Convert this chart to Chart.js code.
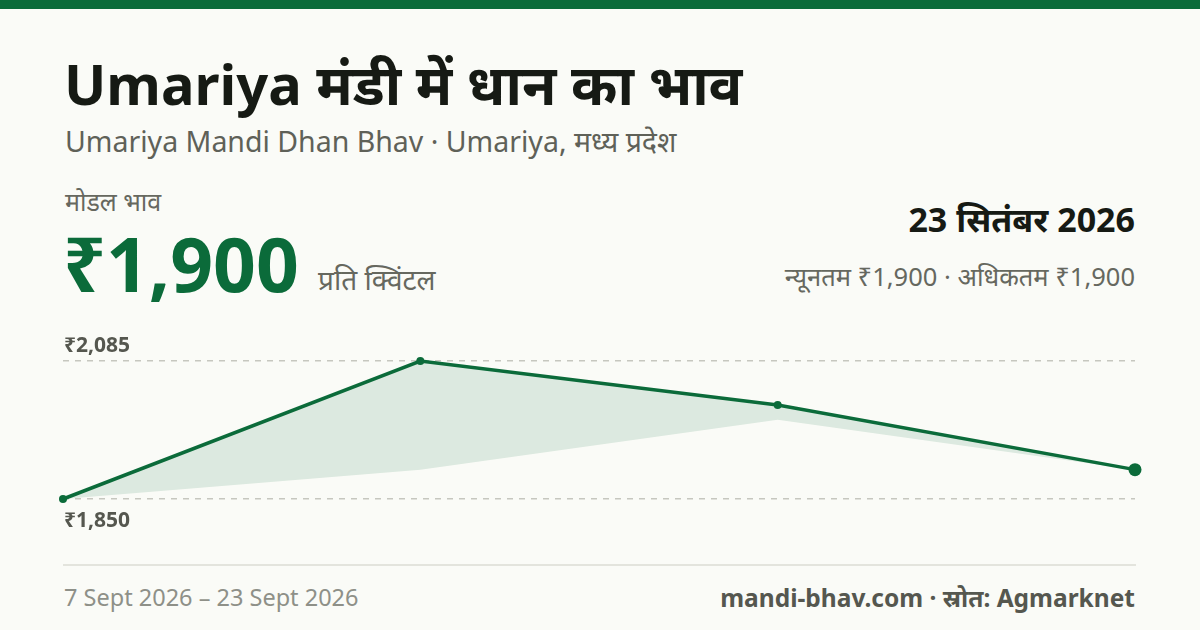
<!DOCTYPE html>
<html>
<head>
<meta charset="utf-8">
<script src="https://cdn.jsdelivr.net/npm/chart.js@4"></script>
<style>
  body { margin: 0; width: 1200px; height: 630px; background: #fafbf7; font-family: "Noto Sans", "Noto Sans Devanagari", sans-serif; position: relative; overflow: hidden; }
  .bar { position: absolute; left: 0; top: 0; width: 1200px; height: 9px; background: #0b6b3a; }
  .t { position: absolute; white-space: nowrap; line-height: 1; }
  #title { left: 64px; top: 55px; font-size: 56px; font-weight: 700; color: #161a14; }
  #sub { left: 65px; top: 127px; font-size: 28.5px; color: #5f6158; }
  #lbl { left: 65px; top: 189px; font-size: 25px; color: #66685f; }
  #price { left: 63px; top: 226px; font-size: 75px; font-weight: 700; color: #0b6b3a; }
  #unit { left: 318px; top: 265px; font-size: 28px; color: #66685f; }
  #date { right: 65px; top: 202px; font-size: 34px; font-weight: 700; color: #161a14; }
  #range { right: 65px; top: 264px; font-size: 25.5px; color: #66685f; }
  #sep { position: absolute; left: 63px; top: 564px; width: 1073px; height: 2px; background: #e3e4dd; }
  #from { left: 64px; top: 586px; font-size: 23.5px; color: #8e9088; }
  #src { right: 65px; top: 586px; font-size: 24.5px; font-weight: 700; color: #55574f; }
  #wrap { position: absolute; left: 0; top: 320px; width: 1200px; height: 240px; }
</style>
</head>
<body>
<div class="bar"></div>
<div class="t" id="title">Umariya मंडी में धान का भाव</div>
<div class="t" id="sub">Umariya Mandi Dhan Bhav · Umariya, मध्य प्रदेश</div>
<div class="t" id="lbl">मोडल भाव</div>
<div class="t" id="price">₹1,900</div>
<div class="t" id="unit">प्रति क्विंटल</div>
<div class="t" id="date">23 सितंबर 2026</div>
<div class="t" id="range">न्यूनतम ₹1,900 · अधिकतम ₹1,900</div>
<div id="wrap"><canvas id="myChart"></canvas></div>
<div id="sep"></div>
<div class="t" id="from">7 Sept 2026 – 23 Sept 2026</div>
<div class="t" id="src">mandi-bhav.com · स्रोत: Agmarknet</div>

<script>
var dates = ['7 Sept', '12 Sept', '18 Sept', '23 Sept'];
var modal = [1850, 2085, 2010, 1900];
var minPrice = [1850, 1900, 1985, 1900];
var tickVals = [1850, 2085];
var green = '#0b6b3a';

// ₹ labels above the top line and below the bottom line
var axisLabels = {
  id: 'axisLabels',
  afterDraw: function(chart) {
    var c = chart.ctx;
    var y = chart.scales.y;
    c.save();
    c.font = 'bold 21px "Noto Sans", sans-serif';
    c.fillStyle = '#55574f';
    c.textAlign = 'left';
    c.textBaseline = 'middle';
    c.fillText('₹' + tickVals[1].toLocaleString('en-IN'), 64, y.getPixelForValue(tickVals[1]) - 15);
    c.fillText('₹' + tickVals[0].toLocaleString('en-IN'), 64, y.getPixelForValue(tickVals[0]) + 22);
    c.restore();
  }
};

var ctx = document.getElementById('myChart').getContext('2d');
var myChart = new Chart(ctx, {
  type: 'line',
  data: {
    labels: dates,
    datasets: [{
      label: 'Modal',
      data: modal,
      borderColor: green,
      borderWidth: 3.5,
      backgroundColor: 'rgba(11,107,58,0.12)',
      fill: 1,
      tension: 0,
      pointRadius: [4, 4, 4, 6.5],
      pointBackgroundColor: green,
      pointBorderWidth: 0,
      clip: false
    }, {
      label: 'Min',
      data: minPrice,
      borderWidth: 0,
      borderColor: 'rgba(0,0,0,0)',
      pointRadius: 0,
      fill: false,
      tension: 0
    }]
  },
  options: {
    responsive: true,
    maintainAspectRatio: false,
    animation: false,
    layout: { padding: { left: 63, right: 65, top: 41, bottom: 61 } },
    plugins: { legend: { display: false }, tooltip: { enabled: false } },
    scales: {
      x: { display: false, offset: false },
      y: {
        min: 1850,
        max: 2085,
        afterBuildTicks: function(s) { s.ticks = tickVals.map(function(v) { return { value: v }; }); },
        afterFit: function(s) { s.width = 0; },
        ticks: { display: false },
        border: { display: false, dash: [6, 6] },
        grid: { color: '#c6c7bf', lineWidth: 1.5, drawTicks: false }
      }
    }
  },
  plugins: [axisLabels]
});
</script>
</body>
</html>
